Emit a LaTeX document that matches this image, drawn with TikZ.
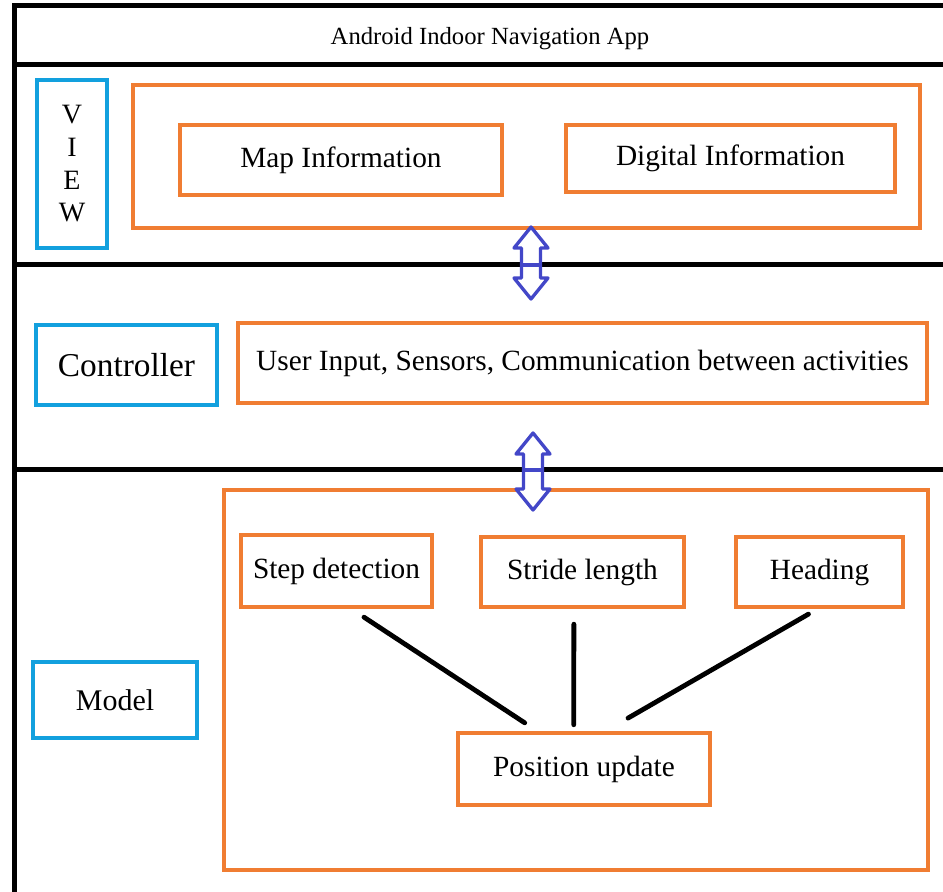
\documentclass[tikz,border=0pt]{standalone}
\usepackage{fontspec}
\setmainfont{Liberation Serif}
\usetikzlibrary{positioning}
\definecolor{boxorange}{HTML}{F07D32}
\definecolor{boxblue}{HTML}{12A0DE}
\definecolor{arrowblue}{HTML}{4347C8}
\tikzset{
  obox/.style 2 args={draw=boxorange, line width=3.4pt, minimum width=#1*0.75pt, minimum height=#2*0.75pt},
  bbox/.style 2 args={draw=boxblue, line width=3.4pt, minimum width=#1*0.75pt, minimum height=#2*0.75pt},
  rowline/.style={line width=3.75pt},
  link/.style={line width=3.6pt, line cap=round},
}
\newcommand{\dbarrow}[4]{%
  \draw[line width=2.5pt, draw=arrowblue, fill=white, line join=round]
    (#1,#2) -- ({#1+17},{#2+21}) -- ({#1+9.5},{#2+21}) -- ({#1+9.5},{#3-21})
    -- ({#1+17},{#3-21}) -- (#1,#3) -- ({#1-17},{#3-21}) -- ({#1-9.5},{#3-21})
    -- ({#1-9.5},{#2+21}) -- ({#1-17},{#2+21}) -- cycle;
  \draw[line width=2.5pt, draw=arrowblue] ({#1-9.5},#4) -- ({#1+9.5},#4);}

\begin{document}
\begin{tikzpicture}[x=0.75pt, y=-0.75pt,
  every node/.style={font=\fontsize{22}{26}\selectfont, inner sep=0pt}]
\useasboundingbox (0,0) rectangle (943,892);
% frame and rows
\draw[rowline] (943,5.5) -| (14.5,892);
\draw[rowline] (14.5,65) -- (943,65);
\draw[rowline] (14.5,264) -- (943,264);
\draw[rowline] (14.5,469) -- (943,469);
\node (title) at (490,39) [font=\fontsize{18.5}{22}\selectfont] {Android Indoor Navigation App};
% view row
\node (viewlbl) at (72,164) [bbox={70}{168}, align=center, font=\fontsize{21}{24.5}\selectfont] {V\\I\\E\\W};
\node (view) at (526.5,156.5) [obox={787}{143}] {};
\node (map) at (341,160) [obox={322}{70}] {Map Information};
\node (digital) at (730.5,158.5) [obox={329}{67}] {Digital Information};
% controller row
\node (ctrl) at (126.5,365) [bbox={181}{80}, font=\fontsize{25}{30}\selectfont] {Controller};
\node (input) at (582.5,363) [obox={689}{80}] {User Input, Sensors, Communication between activities};
% model row
\node (modellbl) at (115,700) [bbox={164}{76}, font=\fontsize{22.5}{27}\selectfont] {Model};
\node (model) at (576,680) [obox={704}{380}] {};
\node (step) at (336.5,571) [obox={191}{72}] {Step detection};
\node (stride) at (582.5,572) [obox={203}{70}] {Stride length};
\node (heading) at (819.5,572) [obox={167}{70}] {Heading};
\node (posupd) at (584,769) [obox={252}{72}] {Position update};
\draw[link, shorten <=10.8pt, shorten >=10.8pt] (step.-68.1) -- (posupd.141.3);
\draw[link, shorten <=11.2pt, shorten >=4.5pt] (stride.-103.6) -- (posupd.105.5);
\draw[link, shorten <=7.3pt, shorten >=19pt] (heading.-94.9) -- (posupd.60.9);
% arrows between rows
\dbarrow{531}{227}{299}{265}
\dbarrow{533}{433}{510}{470}
\end{tikzpicture}
\end{document}
